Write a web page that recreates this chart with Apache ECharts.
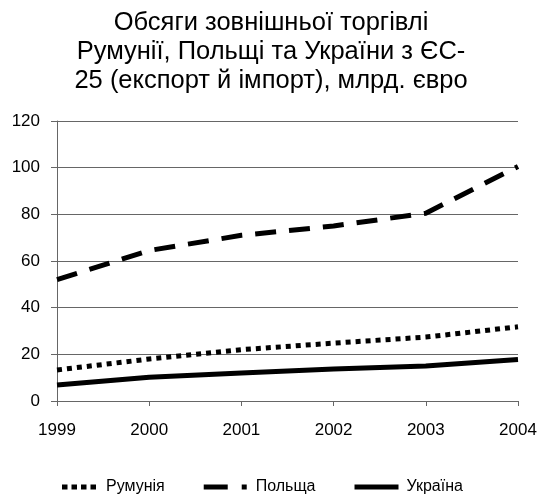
<!DOCTYPE html>
<html><head><meta charset="utf-8">
<script src="https://cdn.jsdelivr.net/npm/echarts@6/dist/echarts.min.js"></script>
<style>html,body{margin:0;padding:0;background:#fff}#c{width:542px;height:500px}</style>
</head><body><div id="c"></div>
<script>
const years = ['1999','2000','2001','2002','2003','2004'];
const romania = [13.3, 18, 22, 24.8, 27.4, 31.8];
const poland = [52, 64.5, 71, 75, 80.5, 100.5];
const ukraine = [6.9, 10.2, 12, 13.7, 15, 17.8];
const yTicks = [0, 20, 40, 60, 80, 100, 120];
const font = 'Liberation Sans, Arial, sans-serif';
const chart = echarts.init(document.getElementById('c'));
chart.setOption({
  animation: false,
  title: {
    text: 'Обсяги зовнішньої торгівлі\nРумунії, Польщі та України з ЄС-\n25 (експорт й імпорт), млрд. євро',
    left: 'center', top: 3,
    textStyle: {fontFamily: font, fontSize: 25.5, fontWeight: 'normal', color: '#000', lineHeight: 29}
  },
  legend: {
    top: 474, left: 49, itemGap: 39, itemWidth: 47, itemHeight: 5, symbolKeepAspect: false,
    textStyle: {fontFamily: font, fontSize: 16, color: '#000'},
    data: [
      {name: 'Румунія', icon: 'path://M0,0M8,0h5.5v5h-5.5zM17.5,0h5.5v5h-5.5zM27,0h5.5v5h-5.5zM36.5,0h5.5v5h-5.5zM47,5'},
      {name: 'Польща', icon: 'path://M0,0h24v5h-24zM38,0h5v5h-5zM47,5'},
      {name: 'Україна', icon: 'path://M0,0h44v5h-44zM47,5'}
    ]
  },
  grid: {left: 57, right: 24, top: 121, bottom: 99},
  xAxis: {
    type: 'category', data: years, boundaryGap: false,
    axisLine: {lineStyle: {color: '#666', width: 1}},
    axisTick: {show: true, length: 5, lineStyle: {color: '#666'}},
    axisLabel: {fontFamily: font, fontSize: 17, color: '#000', margin: 21}
  },
  yAxis: {
    type: 'value', min: yTicks[0], max: yTicks[yTicks.length - 1], interval: 20,
    axisLine: {show: true, lineStyle: {color: '#666'}},
    axisTick: {show: true, length: 6, inside: false, lineStyle: {color: '#666'}},
    splitLine: {lineStyle: {color: '#666', width: 1}},
    axisLabel: {fontFamily: font, fontSize: 17, color: '#000', margin: 17}
  },
  series: [
    {name: 'Румунія', type: 'line', data: romania, symbol: 'none',
     lineStyle: {color: '#000', width: 5, type: [5, 5]}, itemStyle: {color: '#000'}},
    {name: 'Польща', type: 'line', data: poland, symbol: 'none',
     lineStyle: {color: '#000', width: 5, type: [21, 13]}, itemStyle: {color: '#000'}},
    {name: 'Україна', type: 'line', data: ukraine, symbol: 'none',
     lineStyle: {color: '#000', width: 5}, itemStyle: {color: '#000'}}
  ]
});
</script></body></html>
